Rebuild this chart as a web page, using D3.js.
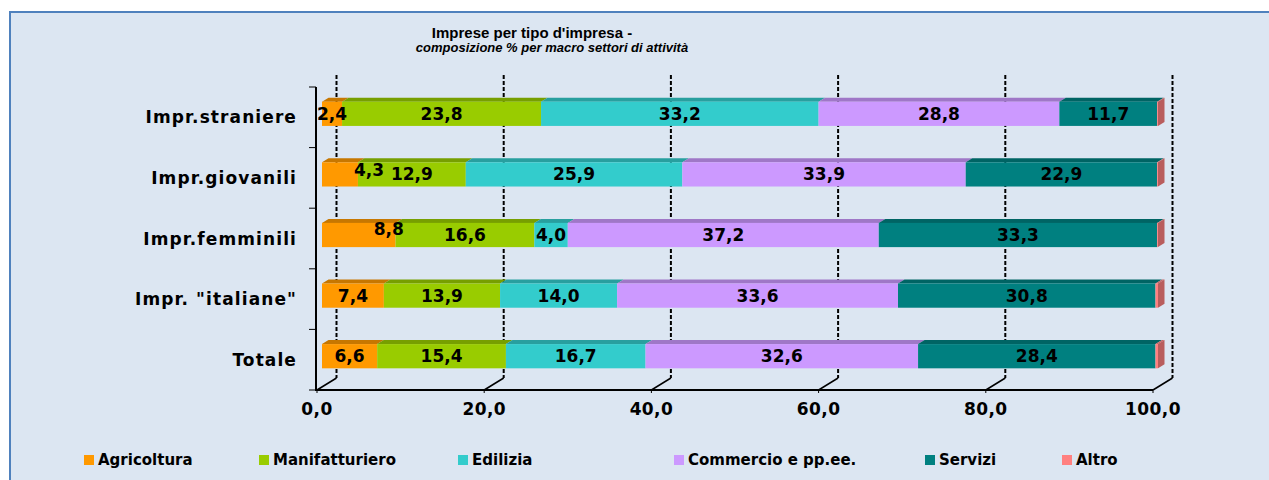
<!DOCTYPE html>
<html>
<head>
<meta charset="utf-8">
<script src="https://cdn.jsdelivr.net/npm/d3@7"></script>
<style>
  html, body { margin: 0; padding: 0; background: #ffffff; }
  svg { display: block; }
</style>
</head>
<body>
<svg id="chart" width="1269" height="480"></svg>
<script>
// ---- data ----
const categories = ["Impr.straniere", "Impr.giovanili", "Impr.femminili", "Impr. \"italiane\"", "Totale"];
const seriesNames = ["Agricoltura", "Manifatturiero", "Edilizia", "Commercio e pp.ee.", "Servizi", "Altro"];
const agricoltura    = [2.4, 4.3, 8.8, 7.4, 6.6];
const manifatturiero = [23.8, 12.9, 16.6, 13.9, 15.4];
const edilizia       = [33.2, 25.9, 4.0, 14.0, 16.7];
const commercio      = [28.8, 33.9, 37.2, 33.6, 32.6];
const servizi        = [11.7, 22.9, 33.3, 30.8, 28.4];
const altro          = [0.1, 0.1, 0.1, 0.3, 0.3];
const xTicks = [0, 20, 40, 60, 80, 100];
const seriesColors = ["#FF9900", "#99CC00", "#33CCCC", "#CC99FF", "#008080", "#FF8080"];

const seriesValues = [agricoltura, manifatturiero, edilizia, commercio, servizi, altro];
const rows = categories.map((c, i) => {
  const r = { cat: c };
  seriesNames.forEach((s, j) => r[s] = seriesValues[j][i]);
  return r;
});
const stacked = d3.stack().keys(seriesNames)(rows);

// ---- layout ----
const svg = d3.select("#chart");
const fmt = v => d3.format(".1f")(v).replace(".", ",");
const FONT = "'DejaVu Sans', sans-serif";

svg.append("rect").attr("x", 10).attr("y", 12).attr("width", 1300).attr("height", 500)
  .attr("fill", "#dce6f2").attr("stroke", "#4f81bd").attr("stroke-width", 2);

// title
svg.append("text").attr("x", 532).attr("y", 38).attr("text-anchor", "middle")
  .attr("font-family", "'Liberation Sans', Arial, sans-serif").attr("font-weight", "bold")
  .attr("font-size", 15).attr("fill", "#000").text("Imprese per tipo d'impresa -");
svg.append("text").attr("x", 552).attr("y", 52).attr("text-anchor", "middle")
  .attr("font-family", "'Liberation Sans', Arial, sans-serif").attr("font-weight", "bold")
  .attr("font-style", "italic")
  .attr("font-size", 13).attr("fill", "#000").text("composizione % per macro settori di attività");

const plotTop = 87, plotBottom = 390;
const x = d3.scaleLinear().domain([0, 100]).range([317, 1153]);
const y = d3.scaleBand().domain(categories).range([plotTop, plotBottom])
  .paddingInner(0.6).paddingOuter(0.3);

const wall = { dx: 19.5, dy: -12 };   // back wall offset
const barOff = { dx: 5, dy: -3.5 };   // bar front face offset
const barDepth = { dx: 6.5, dy: -4 }; // bar thickness

// back wall gridlines (dashed) and floor diagonals
const grid = svg.append("g");
xTicks.forEach(t => {
  const fx = x(t), bx = x(t) + wall.dx;
  grid.append("line").attr("x1", bx).attr("x2", bx)
    .attr("y1", plotTop + wall.dy).attr("y2", plotBottom + wall.dy)
    .attr("stroke", "#000").attr("stroke-width", 2).attr("stroke-dasharray", "4,2");
  grid.append("line").attr("x1", fx).attr("y1", plotBottom)
    .attr("x2", bx).attr("y2", plotBottom + wall.dy)
    .attr("stroke", "#000").attr("stroke-width", 1.5);
});

// bars
const bars = svg.append("g");
stacked.forEach((layer, si) => {
  const col = seriesColors[si];
  const topCol = d3.color(col).darker(0.7).formatHex();
  layer.forEach((d, ci) => {
    const x0 = x(d[0]) + barOff.dx, x1 = x(d[1]) + barOff.dx;
    const yT = y(categories[ci]) + barOff.dy;
    const h = y.bandwidth();
    bars.append("path")
      .attr("d", `M${x0},${yT}L${x1},${yT}L${x1 + barDepth.dx},${yT + barDepth.dy}L${x0 + barDepth.dx},${yT + barDepth.dy}Z`)
      .attr("fill", topCol);
    bars.append("rect").attr("x", x0).attr("y", yT).attr("width", Math.max(0, x1 - x0)).attr("height", h)
      .attr("fill", col);
    if (si === stacked.length - 1) {
      bars.append("path")
        .attr("d", `M${x1},${yT}L${x1 + barDepth.dx},${yT + barDepth.dy}L${x1 + barDepth.dx},${yT + h + barDepth.dy}L${x1},${yT + h}Z`)
        .attr("fill", d3.color(col).darker(0.9).formatHex());
    }
  });
});

// axes
const ax = svg.append("g");
ax.append("line").attr("x1", x(0) - 1).attr("x2", x(0) - 1).attr("y1", plotTop).attr("y2", plotBottom + 1)
  .attr("stroke", "#000").attr("stroke-width", 2);
ax.append("line").attr("x1", x(0) - 2).attr("x2", x(100)).attr("y1", plotBottom).attr("y2", plotBottom)
  .attr("stroke", "#000").attr("stroke-width", 2);
const step = y.step();
for (let i = 0; i <= categories.length; i++) {
  const yy = plotTop + i * step;
  ax.append("line").attr("x1", x(0) - 8).attr("x2", x(0) - 1).attr("y1", yy).attr("y2", yy)
    .attr("stroke", "#000").attr("stroke-width", 1);
}
xTicks.forEach(t => {
  ax.append("line").attr("x1", x(t)).attr("x2", x(t)).attr("y1", plotBottom).attr("y2", plotBottom + 3)
    .attr("stroke", "#000").attr("stroke-width", 1);
  ax.append("text").attr("x", x(t)).attr("y", 415).attr("text-anchor", "middle")
    .attr("font-family", FONT).attr("font-weight", "bold").attr("font-size", 17)
    .attr("letter-spacing", 0.4)
    .attr("fill", "#000").text(fmt(t));
});
categories.forEach(c => {
  ax.append("text").attr("x", 297).attr("y", y(c) + y.bandwidth() / 2 + 6)
    .attr("text-anchor", "end").attr("font-family", FONT).attr("font-weight", "bold")
    .attr("font-size", 17).attr("letter-spacing", 1.1).attr("fill", "#000").text(c);
});

// data labels (Altro not labelled)
const nudge = { "1-0": { dx: 29, dy: -4.5 }, "2-0": { dx: 30, dy: -6 } };
const labels = svg.append("g");
stacked.slice(0, 5).forEach((layer, si) => {
  layer.forEach((d, ci) => {
    const n = nudge[ci + "-" + si] || { dx: 0, dy: 0 };
    const cx = x((d[0] + d[1]) / 2) + barOff.dx + n.dx;
    const cy = y(categories[ci]) + barOff.dy + y.bandwidth() / 2 + 6 + n.dy;
    labels.append("text").attr("x", cx).attr("y", cy).attr("text-anchor", "middle")
      .attr("font-family", FONT).attr("font-weight", "bold").attr("font-size", 17)
      .attr("fill", "#000").text(fmt(d[1] - d[0]));
  });
});

// legend
const legendX = [84, 259, 458, 674, 925, 1062];
const lg = svg.append("g");
seriesNames.forEach((s, i) => {
  lg.append("rect").attr("x", legendX[i]).attr("y", 455).attr("width", 10).attr("height", 10)
    .attr("fill", seriesColors[i]);
  lg.append("text").attr("x", legendX[i] + 14).attr("y", 465)
    .attr("font-family", FONT).attr("font-weight", "bold").attr("font-size", 15)
    .attr("fill", "#000").text(s);
});
</script>
</body>
</html>
